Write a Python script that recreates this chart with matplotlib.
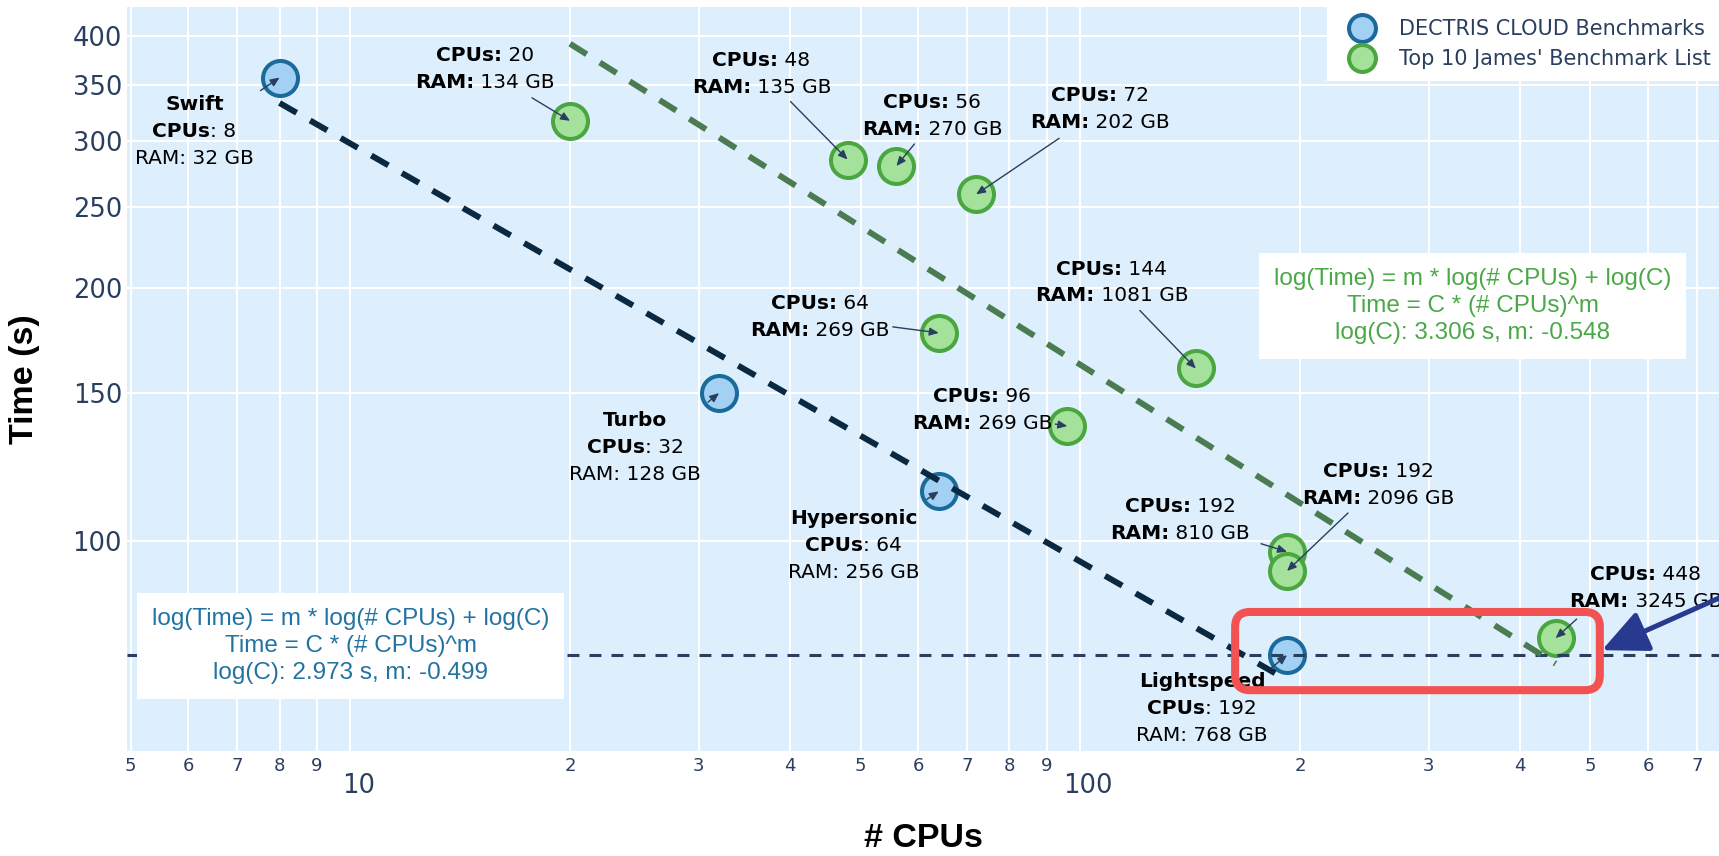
import numpy as np
import matplotlib.pyplot as plt
from matplotlib.lines import Line2D
from matplotlib.offsetbox import TextArea, HPacker, VPacker, AnnotationBbox
from matplotlib.patches import FancyBboxPatch
from matplotlib.ticker import FixedLocator, FixedFormatter
from matplotlib.transforms import IdentityTransform, ScaledTranslation

# DECTRIS CLOUD machines
dectris_names = ['Swift', 'Turbo', 'Hypersonic', 'Lightspeed']
dectris_cpus = [8, 32, 64, 192]
dectris_ram = [32, 128, 256, 768]
dectris_time = [357, 150, 114.5, 73]

# Top 10 of James' benchmark list
james_cpus = [20, 48, 56, 72, 64, 96, 144, 192, 192, 448]
james_ram = [134, 135, 270, 202, 269, 269, 1081, 810, 2096, 3245]
james_time = [317, 285, 280, 259, 177, 137, 160.5, 97, 92, 76.5]

# power-law fits: log10(Time) = m * log10(CPUs) + log10(C)
dectris_logc, dectris_m = 2.973, -0.499
james_logc, james_m = 3.306, -0.548

# highlighted region around the two fastest machines
highlight_x = (163, 515)
highlight_y = (66.3, 82.2)

# label offsets from each point in pixels (x right, y down): text centre, arrow tail
dectris_text_off = [(-85, 54), (-84, 54), (-85, 54), (-85, 53)]
dectris_arrow_off = [(-19, 13), (-11, 9), (-12, 8), (-16, 13)]
james_text_off = [(-85, -52), (-86, -86), (36, -50), (124, -85), (-119, -16),
                  (-85, -16), (-84, -86), (-107, -32), (91, -86), (90, -50)]
james_arrow_off = [(-38, -23), (-57, -58), (18, -22), (83, -56), (-46, -6),
                   (-12, -2), (-56, -58), (-26, -8), (61, -58), (21, -19)]

NAVY = '#2a3f5f'
BLUE_FILL, BLUE_EDGE = '#a3d1f4', '#1a6b9c'
GREEN_FILL, GREEN_EDGE = '#a4e29c', '#4aa63f'

plt.rcParams['font.family'] = 'DejaVu Sans'

fig = plt.figure(figsize=(17.19, 8.56), dpi=100)
ax = fig.add_axes([0.0739, 0.1227, 0.9261, 0.8692])
ax.set_facecolor('#ddeefc')
for s in ax.spines.values():
    s.set_visible(False)

ax.set_xscale('log')
ax.set_yscale('log')
ax.set_xlim(4.945, 750)
ax.set_ylim(56.1, 433.5)

# x axis: big labels at the decades, small leading-digit labels in between
major_x = [10, 100]
minor_x = [5, 6, 7, 8, 9, 20, 30, 40, 50, 60, 70, 80, 90, 200, 300, 400, 500, 600, 700]
ax.xaxis.set_major_locator(FixedLocator(major_x))
ax.xaxis.set_major_formatter(FixedFormatter([str(v) for v in major_x]))
ax.xaxis.set_minor_locator(FixedLocator(minor_x))
ax.xaxis.set_minor_formatter(FixedFormatter([str(v)[0] for v in minor_x]))

yticks = [100, 150, 200, 250, 300, 350, 400]
ax.yaxis.set_major_locator(FixedLocator(yticks))
ax.yaxis.set_major_formatter(FixedFormatter([str(v) for v in yticks]))
ax.yaxis.set_minor_locator(FixedLocator([]))

ax.tick_params(axis='x', which='major', length=0, labelsize=18.5, pad=16, labelcolor=NAVY)
ax.tick_params(axis='x', which='minor', length=0, labelsize=13, pad=4, labelcolor=NAVY)
ax.tick_params(axis='y', which='both', length=0, labelsize=18.5, pad=3.6, labelcolor=NAVY)
shift = ScaledTranslation(8 / 100, 0, fig.dpi_scale_trans)
for t in ax.xaxis.get_major_ticks():
    t.label1.set_transform(t.label1.get_transform() + shift)

ax.set_axisbelow(True)
ax.grid(True, which='both', color='white', lw=1.5)

ax.set_xlabel('# CPUs', fontsize=24.5, fontweight='bold', family='Liberation Sans', va='center')
ax.xaxis.set_label_coords(0.5, -0.1183)
ax.set_ylabel('Time (s)', fontsize=24.5, fontweight='bold', family='Liberation Sans', va='center')
ax.yaxis.set_label_coords(-0.0641, 0.5)

# benchmark points
ax.scatter(dectris_cpus, dectris_time, s=635, c=BLUE_FILL, edgecolors=BLUE_EDGE,
           linewidths=2.9, zorder=2)
ax.scatter(james_cpus, james_time, s=635, c=GREEN_FILL, edgecolors=GREEN_EDGE,
           linewidths=2.9, zorder=2)


def label_block(lines):
    rows = []
    for parts in lines:
        areas = [TextArea(txt, textprops=dict(fontsize=14.5, color='black',
                                              fontweight='bold' if bold else 'normal'))
                 for txt, bold in parts]
        rows.append(HPacker(children=areas, pad=0, sep=0, align='baseline'))
    return VPacker(children=rows, pad=0, sep=5.7, align='center')


def add_label(x, y, lines, text_off, arrow_off):
    ab = AnnotationBbox(label_block(lines), (x, y), xybox=(text_off[0], -text_off[1]),
                        xycoords='data', boxcoords='offset pixels', frameon=False,
                        box_alignment=(0.5, 0.5), pad=0, zorder=3)
    ax.add_artist(ab)
    ax.annotate('', xy=(x, y), xytext=(arrow_off[0], -arrow_off[1]),
                textcoords='offset pixels', zorder=4.5,
                arrowprops=dict(arrowstyle='-|>,head_length=5.5,head_width=2.4',
                                mutation_scale=1, lw=1.0, color=NAVY,
                                shrinkA=0, shrinkB=0))


for i in range(len(dectris_cpus)):
    lines = [[(dectris_names[i], True)],
             [('CPUs', True), (f': {dectris_cpus[i]}', False)],
             [(f'RAM: {dectris_ram[i]} GB', False)]]
    add_label(dectris_cpus[i], dectris_time[i], lines, dectris_text_off[i], dectris_arrow_off[i])

for i in range(len(james_cpus)):
    lines = [[('CPUs:', True), (f' {james_cpus[i]}', False)],
             [('RAM:', True), (f' {james_ram[i]} GB', False)]]
    add_label(james_cpus[i], james_time[i], lines, james_text_off[i], james_arrow_off[i])

# fitted power laws
xd = np.array([min(dectris_cpus), max(dectris_cpus)], dtype=float)
ax.plot(xd, 10 ** dectris_logc * xd ** dectris_m, color='#0a2840', lw=4.3,
        dashes=(3.3, 2.6), dash_capstyle='butt', zorder=4)
xj = np.array([min(james_cpus), max(james_cpus)], dtype=float)
ax.plot(xj, 10 ** james_logc * xj ** james_m, color='#4b7b50', lw=4.3,
        dashes=(3.3, 2.6), dash_capstyle='butt', zorder=4)

# reference level: fastest DECTRIS machine
ax.axhline(dectris_time[-1], color=NAVY, lw=2.2, dashes=(3.9, 3.3), zorder=3.5)


def fit_text(logc, m):
    return '\n'.join(['log(Time) = m * log(# CPUs) + log(C)',
                      'Time = C * (# CPUs)^m',
                      f'log(C): {logc:.3f} s, m: {m:.3f}'])


ax.text(0.1404, 0.1411, fit_text(dectris_logc, dectris_m), transform=ax.transAxes,
        ha='center', va='center', multialignment='center', fontsize=17.5,
        family='Liberation Sans', color='#2272a2', linespacing=1.32, zorder=5,
        bbox=dict(boxstyle='square,pad=0.6', fc='white', ec='none'))
ax.text(0.8452, 0.5981, fit_text(james_logc, james_m), transform=ax.transAxes,
        ha='center', va='center', multialignment='center', fontsize=17.5,
        family='Liberation Sans', color='#4aa846', linespacing=1.32, zorder=5,
        bbox=dict(boxstyle='square,pad=0.6', fc='white', ec='none'))

handles = [Line2D([], [], ls='none', marker='o', ms=19.4, mfc=BLUE_FILL, mec=BLUE_EDGE, mew=2.9),
           Line2D([], [], ls='none', marker='o', ms=19.4, mfc=GREEN_FILL, mec=GREEN_EDGE, mew=2.9)]
leg = ax.legend(handles, ['DECTRIS CLOUD Benchmarks', "Top 10 James' Benchmark List"],
                loc='upper left', bbox_to_anchor=(0.7538, 1.0), borderaxespad=0,
                borderpad=0.6, handlelength=2.2, handletextpad=0.63, labelspacing=0.45,
                fontsize=15, labelcolor=NAVY, frameon=True, fancybox=False,
                framealpha=1, facecolor='white', edgecolor='none')
leg.set_zorder(6)

# highlight box and pointer
p0 = ax.transData.transform((highlight_x[0], highlight_y[0]))
p1 = ax.transData.transform((highlight_x[1], highlight_y[1]))
box = FancyBboxPatch(p0, p1[0] - p0[0], p1[1] - p0[1],
                     boxstyle='round,pad=0,rounding_size=15', transform=IdentityTransform(),
                     fc='none', ec='#f25252', lw=5.8, zorder=7)
fig.add_artist(box)

ax.annotate('', xy=(518.5, 74.0), xytext=(968, 94.3), xycoords='data',
            annotation_clip=False, zorder=8,
            arrowprops=dict(arrowstyle='-|>,head_length=28,head_width=13',
                            mutation_scale=1, lw=3.6, color='#283a90',
                            shrinkA=0, shrinkB=0))

fig.savefig('out.png', dpi=100)
